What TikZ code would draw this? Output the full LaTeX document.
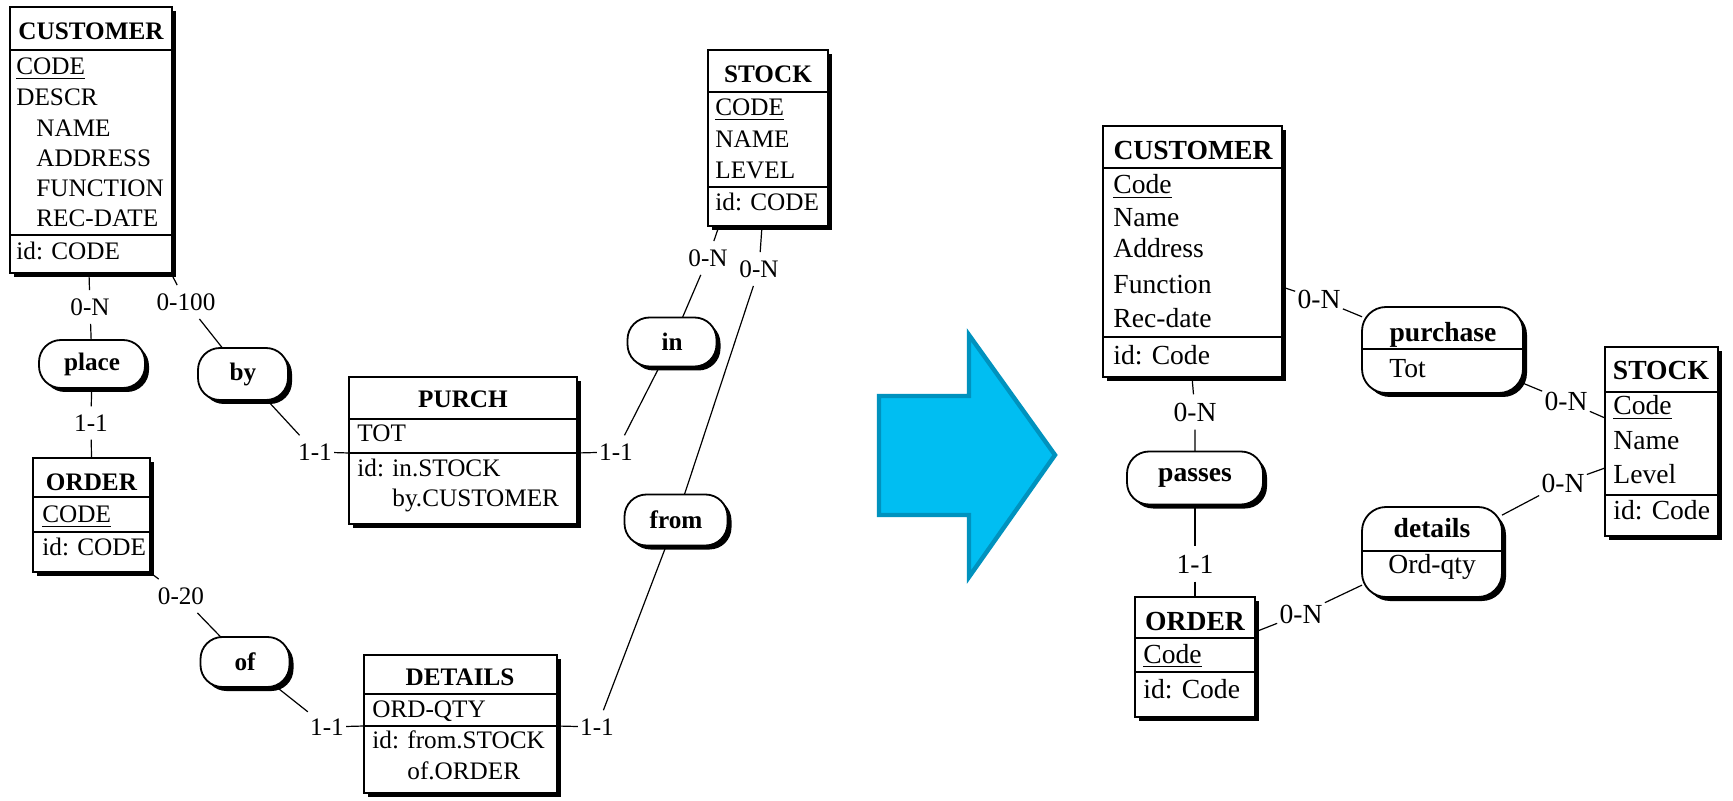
\documentclass[tikz,border=0pt]{standalone}
\usepackage{fontspec}
\setmainfont{Liberation Serif}
\usetikzlibrary{shadows}
\definecolor{arrowfill}{RGB}{0,190,242}
\definecolor{arrowline}{RGB}{0,146,190}
\newcommand\lfnt{\fontsize{12.6}{15}\selectfont}
\newcommand\rfnt{\fontsize{13.8}{16}\selectfont}
\newcommand\entbox[5]{\node[ent, minimum width={(#4-#2)*0.5pt}, minimum height={(#5-#3)*0.5pt}] (#1) at ({(#2+#4)/2},{(#3+#5)/2}) {};}
\begin{document}
\begin{tikzpicture}[x=0.5pt,y=-0.5pt,
 shd/.style={drop shadow={shadow xshift=2pt,shadow yshift=-2pt,fill=black,opacity=1}},
 ent/.style={draw, line width=0.9pt, fill=white, shd, inner sep=0pt, outer sep=0pt},
 rel/.style={draw, line width=0.9pt, fill=white, shd, inner sep=0pt, outer sep=0pt, rounded corners=11pt},
 sepl/.style={line width=0.8pt},
 conn/.style={line width=0.6pt},
 lt/.style={font=\lfnt, anchor=base west, inner sep=0pt},
 lh/.style={font=\lfnt\bfseries, anchor=base, inner sep=0pt},
 rt/.style={font=\rfnt, anchor=base west, inner sep=0pt},
 rh/.style={font=\rfnt\bfseries, anchor=base, inner sep=0pt},
 lab/.style={font=\lfnt, inner xsep=1pt, inner ysep=4pt},
 rlab/.style={font=\rfnt, inner xsep=1pt, inner ysep=4pt},
]
\useasboundingbox (0,0) rectangle (1733,801);

% ---------------- left diagram: entities ----------------
\entbox{cust}{10}{7}{172}{273}
\draw[sepl] (cust.west |- 0,50) -- (cust.east |- 0,50);
\draw[sepl] (cust.west |- 0,235) -- (cust.east |- 0,235);
\node[lh] (custT) at (91,40) {CUSTOMER};
\node[lt] (custA1) at (16,75) {\underline{CODE}};
\node[lt] (custA2) at (16,106) {DESCR};
\node[lt] (custA3) at (36,137) {NAME};
\node[lt] (custA4) at (36,167) {ADDRESS};
\node[lt] (custA5) at (36,197) {FUNCTION};
\node[lt] (custA6) at (36,227) {REC-DATE};
\node[lt] (custI) at (16,260) {id: CODE};

\entbox{stock}{708}{50}{828}{226}
\draw[sepl] (stock.west |- 0,92) -- (stock.east |- 0,92);
\draw[sepl] (stock.west |- 0,187) -- (stock.east |- 0,187);
\node[lh] (stockT) at (768,83) {STOCK};
\node[lt] (stockA1) at (715,116) {\underline{CODE}};
\node[lt] (stockA2) at (715,148) {NAME};
\node[lt] (stockA3) at (715,179) {LEVEL};
\node[lt] (stockI) at (715,211) {id: CODE};

\entbox{order}{33}{458}{150}{572}
\draw[sepl] (order.west |- 0,497) -- (order.east |- 0,497);
\draw[sepl] (order.west |- 0,532) -- (order.east |- 0,532);
\node[lh] (orderT) at (91.5,490) {ORDER};
\node[lt] (orderA1) at (42,523) {\underline{CODE}};
\node[lt] (orderI) at (42,555) {id: CODE};

\entbox{purch}{349}{377}{577}{524}
\draw[sepl] (purch.west |- 0,419) -- (purch.east |- 0,419);
\draw[sepl] (purch.west |- 0,453) -- (purch.east |- 0,453);
\node[lh] (purchT) at (463,408) {PURCH};
\node[lt] (purchA1) at (357,442) {TOT};
\node[lt] (purchI1) at (357,477) {id: in.STOCK};
\node[lt] (purchI2) at (357,507) {\phantom{id: }by.CUSTOMER};

\entbox{det}{364}{655}{557}{793}
\draw[sepl] (det.west |- 0,694) -- (det.east |- 0,694);
\draw[sepl] (det.west |- 0,726) -- (det.east |- 0,726);
\node[lh] (detT) at (460,685) {DETAILS};
\node[lt] (detA1) at (372,717) {ORD-QTY};
\node[lt] (detI1) at (372,748) {id: from.STOCK};
\node[lt] (detI2) at (372,779) {\phantom{id: }of.ORDER};

% ---------------- left diagram: relationships ----------------
\node[rel, font=\lfnt\bfseries, minimum width=53pt, minimum height=24pt] (place) at (92,364) {place};
\node[rel, font=\lfnt\bfseries, minimum width=45pt, minimum height=26pt] (by) at (243,374) {by};
\node[rel, font=\lfnt\bfseries, minimum width=44.5pt, minimum height=24.5pt] (in) at (672,342) {in};
\node[rel, font=\lfnt\bfseries, minimum width=51.5pt, minimum height=25.5pt] (from) at (676,520) {from};
\node[rel, font=\lfnt\bfseries, minimum width=44.5pt, minimum height=25pt] (of) at (245,662) {of};

% ---------------- left diagram: labels & connectors ----------------
\node[lab] (L1) at (90,307) {0-N};
\node[lab] (L2) at (186,302) {0-100};
\node[lab] (L3) at (91,423) {1-1};
\node[lab] (L4) at (315,452) {1-1};
\node[lab] (L5) at (616,452) {1-1};
\node[lab] (L6) at (708,258) {0-N};
\node[lab] (L7) at (759,269) {0-N};
\node[lab] (L8) at (597,727) {1-1};
\node[lab] (L9) at (181,596) {0-20};
\node[lab] (L10) at (327,727) {1-1};

\coordinate (cA) at (89,273);
\coordinate (cB) at (173,277);
\coordinate (pA) at (349,453);
\coordinate (pB) at (577,453);
\coordinate (sA) at (719,226);
\coordinate (sB) at (762,226);
\coordinate (dA) at (364,726);
\coordinate (dB) at (557,726);
\coordinate (oA) at (152,574);

\draw[conn] (cA) -- (L1) -- (place);
\draw[conn] (cB) -- (L2) -- (by);
\draw[conn] (place) -- (L3) -- (order.north);
\draw[conn] (by) -- (L4) -- (pA);
\draw[conn] (in) -- (L5) -- (pB);
\draw[conn] (sA) -- (L6) -- (in);
\draw[conn] (sB) -- (L7) -- (from);
\draw[conn] (from) -- (L8) -- (dB);
\draw[conn] (oA) -- (L9) -- (of);
\draw[conn] (of) -- (L10) -- (dA);

% ---------------- arrow ----------------
\draw[arrowline, fill=arrowfill, line width=2.2pt, line join=miter]
  (879,396) -- (969,396) -- (969,335) -- (1055,455) -- (969,577) -- (969,515) -- (879,515) -- cycle;

% ---------------- right diagram: entities ----------------
\entbox{cust2}{1103}{126}{1282}{377}
\draw[sepl] (cust2.west |- 0,168) -- (cust2.east |- 0,168);
\draw[sepl] (cust2.west |- 0,337) -- (cust2.east |- 0,337);
\node[rh] (cust2T) at (1193,160) {CUSTOMER};
\node[rt] (cust2A1) at (1113,194) {\underline{Code}};
\node[rt] (cust2A2) at (1113,227) {Name};
\node[rt] (cust2A3) at (1113,258) {Address};
\node[rt] (cust2A4) at (1113,294) {Function};
\node[rt] (cust2A5) at (1113,328) {Rec-date};
\node[rt] (cust2I) at (1113,365) {id: Code};

\entbox{order2}{1135}{597}{1255}{717}
\draw[sepl] (order2.west |- 0,638) -- (order2.east |- 0,638);
\draw[sepl] (order2.west |- 0,672) -- (order2.east |- 0,672);
\node[rh] (order2T) at (1195,630) {ORDER};
\node[rt] (order2A1) at (1143,663) {\underline{Code}};
\node[rt] (order2I) at (1143,698) {id: Code};

\entbox{stock2}{1605}{347}{1718}{536}
\draw[sepl] (stock2.west |- 0,392) -- (stock2.east |- 0,392);
\draw[sepl] (stock2.west |- 0,495) -- (stock2.east |- 0,495);
\node[rh] (stock2T) at (1661,380) {STOCK};
\node[rt] (stock2A1) at (1613,415) {\underline{Code}};
\node[rt] (stock2A2) at (1613,450) {Name};
\node[rt] (stock2A3) at (1613,483) {Level};
\node[rt] (stock2I) at (1613,519) {id: Code};

% ---------------- right diagram: relationships ----------------
\node[rel, font=\rfnt\bfseries, minimum width=68pt, minimum height=26.5pt] (passes) at (1195,478) {passes};

\node[rel, rounded corners=12pt, minimum width=80.5pt, minimum height=43pt] (purchase) at (1442.5,350) {};
\draw[sepl] (purchase.west |- 0,349) -- (purchase.east |- 0,349);
\node[rh] (purchaseT) at (1443,342) {purchase};
\node[rt] (purchaseA) at (1389,378) {Tot};

\node[rel, rounded corners=12pt, minimum width=70pt, minimum height=45pt] (details) at (1432,552) {};
\draw[sepl] (details.west |- 0,551) -- (details.east |- 0,551);
\node[rh] (detailsT) at (1432,538) {details};
\node[rt] (detailsA) at (1388,573) {Ord-qty};

% ---------------- right diagram: labels & connectors ----------------
\node[rlab] (R1) at (1195,412) {0-N};
\node[rlab] (R2) at (1195,564) {1-1};
\node[rlab] (R3) at (1319,299) {0-N};
\node[rlab] (R4) at (1566,401) {0-N};
\node[rlab] (R5) at (1563,483) {0-N};
\node[rlab] (R6) at (1301,614) {0-N};

\coordinate (c2A) at (1192,377);
\coordinate (c2B) at (1282,287);
\coordinate (s2A) at (1605,418);
\coordinate (s2B) at (1605,468);
\coordinate (o2A) at (1255,632);

\draw[conn] (c2A) -- (R1) -- (passes);
\draw[conn] (passes) -- (R2) -- (order2.north);
\draw[conn] (c2B) -- (R3) -- (purchase);
\draw[conn] (purchase) -- (R4) -- (s2A);
\draw[conn] (details) -- (R5) -- (s2B);
\draw[conn] (o2A) -- (R6) -- (details);
\end{tikzpicture}
\end{document}
